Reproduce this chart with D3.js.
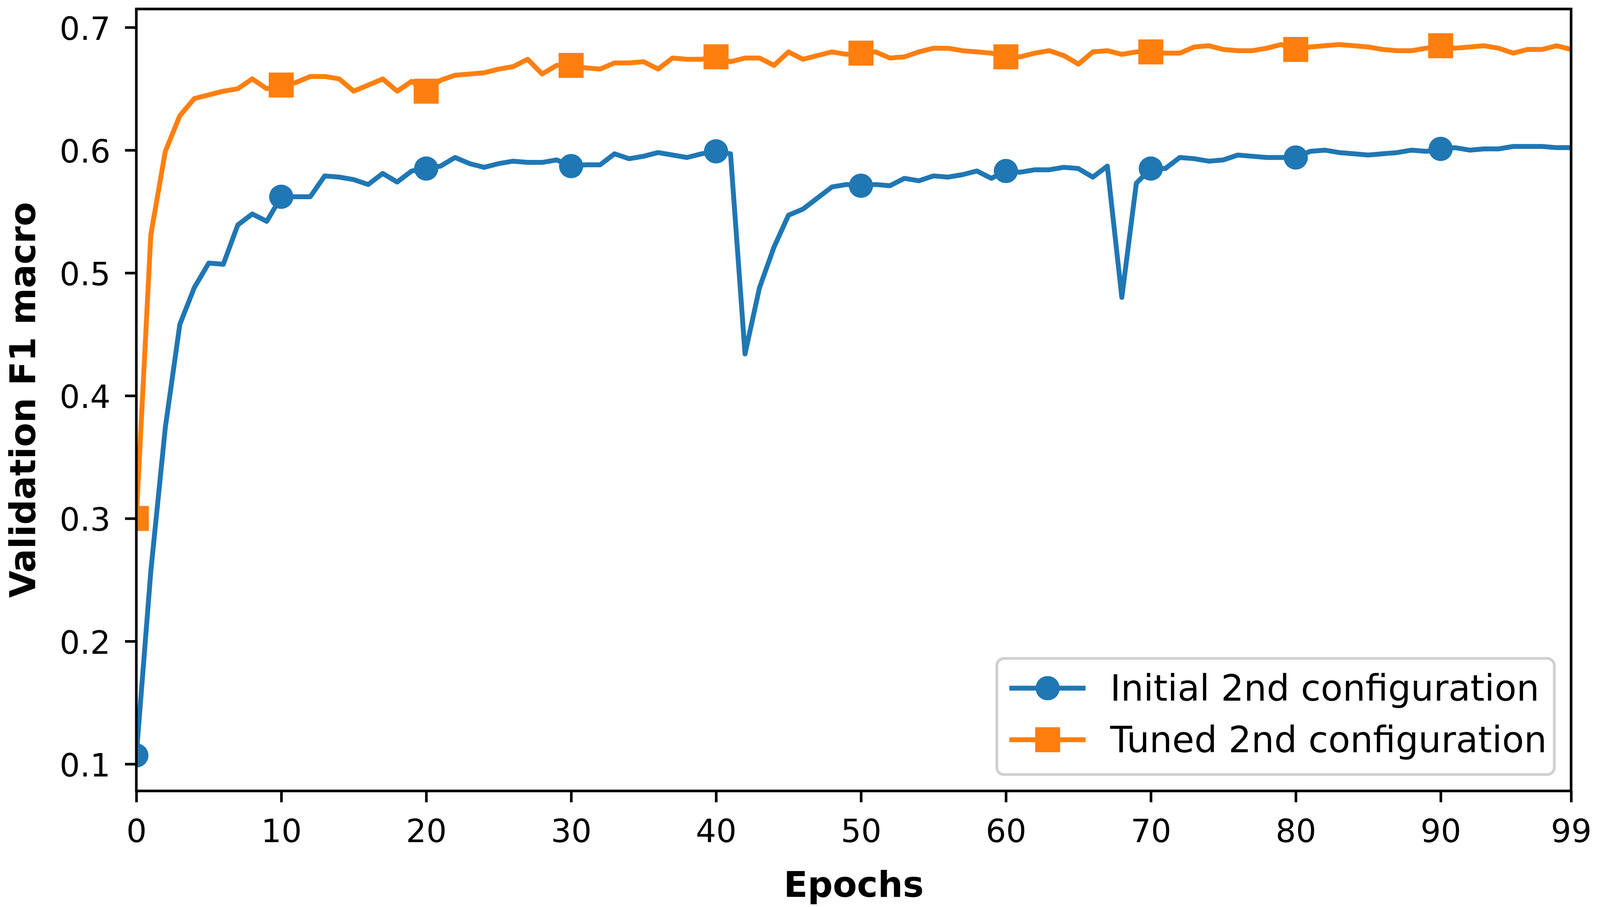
<!DOCTYPE html>
<html lang="en">
<head>
<meta charset="UTF-8">
<title>Validation F1 macro</title>
<script src="https://cdn.jsdelivr.net/npm/d3@7"></script>
<style>
  body { margin: 0; background: #fff; overflow: hidden; }
  svg { display: block; font-family: "DejaVu Sans", sans-serif; }
  .tick text { font-size: 82px; fill: #000; }
  .tick line { stroke: #000; stroke-width: 6.7; }
  .axis-label { font-size: 90px; font-weight: bold; fill: #000; }
  .legend-text { font-size: 92px; fill: #000; }
</style>
</head>
<body>
<div id="root"></div>
<script>
// data
const epochs = d3.range(100)
const initial2nd = [
  0.107, 0.257, 0.374, 0.458, 0.488, 0.508, 0.507, 0.539, 0.548, 0.542,
  0.562, 0.562, 0.562, 0.579, 0.578, 0.576, 0.572, 0.581, 0.574, 0.583,
  0.585, 0.587, 0.594, 0.589, 0.586, 0.589, 0.591, 0.590, 0.590, 0.592,
  0.587, 0.588, 0.588, 0.597, 0.593, 0.595, 0.598, 0.596, 0.594, 0.597,
  0.599, 0.597, 0.434, 0.488, 0.521, 0.547, 0.552, 0.561, 0.570, 0.572,
  0.571, 0.572, 0.571, 0.577, 0.575, 0.579, 0.578, 0.580, 0.583, 0.577,
  0.583, 0.582, 0.584, 0.584, 0.586, 0.585, 0.578, 0.587, 0.480, 0.573,
  0.585, 0.585, 0.594, 0.593, 0.591, 0.592, 0.596, 0.595, 0.594, 0.594,
  0.594, 0.599, 0.600, 0.598, 0.597, 0.596, 0.597, 0.598, 0.600, 0.599,
  0.601, 0.602, 0.600, 0.601, 0.601, 0.603, 0.603, 0.603, 0.602, 0.602
]
const tuned2nd = [
  0.300, 0.531, 0.599, 0.628, 0.642, 0.645, 0.648, 0.650, 0.658, 0.650,
  0.653, 0.655, 0.660, 0.660, 0.658, 0.648, 0.653, 0.658, 0.648, 0.656,
  0.648, 0.657, 0.661, 0.662, 0.663, 0.666, 0.668, 0.674, 0.662, 0.669,
  0.669, 0.667, 0.666, 0.671, 0.671, 0.672, 0.666, 0.675, 0.674, 0.674,
  0.676, 0.672, 0.675, 0.675, 0.669, 0.680, 0.674, 0.677, 0.680, 0.678,
  0.679, 0.680, 0.675, 0.676, 0.680, 0.683, 0.683, 0.681, 0.680, 0.679,
  0.676, 0.676, 0.679, 0.681, 0.677, 0.670, 0.680, 0.681, 0.678, 0.680,
  0.680, 0.679, 0.679, 0.684, 0.685, 0.682, 0.681, 0.681, 0.683, 0.686,
  0.682, 0.684, 0.685, 0.686, 0.685, 0.684, 0.682, 0.681, 0.681, 0.683,
  0.685, 0.683, 0.684, 0.685, 0.683, 0.679, 0.682, 0.682, 0.685, 0.682
]
const seriesNames = ['Initial 2nd configuration', 'Tuned 2nd configuration']
const xTicks = [0, 10, 20, 30, 40, 50, 60, 70, 80, 90, 99]
const yTicks = [0.1, 0.2, 0.3, 0.4, 0.5, 0.6, 0.7]

// the chart fills the window (wide windows get capped, so read the real size)
const width = Math.min(5459, window.innerWidth || 5459)
const height = 2321
const axLeft = 349, axRight = width - 74, axTop = 23, axBottom = 2024
const colors = ['#1f77b4', '#ff7f0e']
const lineW = 12.5
const spineW = 6.7

const svg = d3.select('#root').append('svg')
  .attr('width', width).attr('height', height)
svg.append('rect').attr('width', width).attr('height', height).attr('fill', '#fff')

// y limits like matplotlib autoscale (5% margin)
const allVals = initial2nd.concat(tuned2nd)
const yMin = d3.min(allVals), yMax = d3.max(allVals)
const yPad = (yMax - yMin) * 0.05

const xScale = d3.scaleLinear().domain([0, 99]).range([axLeft, axRight])
const yScale = d3.scaleLinear().domain([yMin - yPad, yMax + yPad]).range([axBottom, axTop])

svg.append('clipPath').attr('id', 'plotClip')
  .append('rect').attr('x', axLeft).attr('y', axTop)
  .attr('width', axRight - axLeft).attr('height', axBottom - axTop)

// axes
const xAxis = d3.axisBottom(xScale).tickValues(xTicks).tickSizeInner(29).tickSizeOuter(0).tickPadding(44)
svg.append('g').attr('class', 'xAxis')
  .attr('transform', `translate(0,${axBottom})`)
  .call(xAxis)
  .call(g => g.select('.domain').remove())

const yAxis = d3.axisLeft(yScale).tickValues(yTicks).tickSizeInner(29).tickSizeOuter(0).tickPadding(37)
  .tickFormat(d3.format('.1f'))
svg.append('g').attr('class', 'yAxis')
  .attr('transform', `translate(${axLeft},0)`)
  .call(yAxis)
  .call(g => g.select('.domain').remove())
  .call(g => g.selectAll('text').attr('dy', '0.38em'))

svg.selectAll('.tick text').attr('font-family', '"DejaVu Sans", sans-serif')

// lines + markers
const plot = svg.append('g').attr('clip-path', 'url(#plotClip)')
const seriesData = [initial2nd, tuned2nd].map(vals => epochs.map(i => ({ x: i, y: vals[i] })))
const line = d3.line().x(d => xScale(d.x)).y(d => yScale(d.y))

seriesData.forEach((data, k) => {
  plot.append('path')
    .datum(data)
    .attr('d', line)
    .attr('fill', 'none')
    .attr('stroke', colors[k])
    .attr('stroke-width', lineW)
    .attr('stroke-linejoin', 'round')
})

const drawMarker = (g, k, cx, cy) => {
  if (k === 0) {
    g.append('circle').attr('cx', cx).attr('cy', cy).attr('r', 31).attr('fill', colors[0])
  } else {
    g.append('rect').attr('x', cx - 32).attr('y', cy - 32).attr('width', 64).attr('height', 64)
      .attr('fill', colors[1])
  }
}

// markevery = 10
seriesData.forEach((data, k) => {
  data.filter(d => d.x % 10 === 0).forEach(d => drawMarker(plot, k, xScale(d.x), yScale(d.y)))
})

// frame
svg.append('rect')
  .attr('x', axLeft).attr('y', axTop)
  .attr('width', axRight - axLeft).attr('height', axBottom - axTop)
  .attr('fill', 'none').attr('stroke', '#000').attr('stroke-width', spineW)

// axis labels
svg.append('text').attr('class', 'axis-label')
  .attr('x', (axLeft + axRight) / 2).attr('y', 2295)
  .attr('text-anchor', 'middle')
  .text('Epochs')

svg.append('text').attr('class', 'axis-label')
  .attr('transform', `translate(90,${(axTop + axBottom) / 2}) rotate(-90)`)
  .attr('text-anchor', 'middle')
  .text('Validation F1 macro')

// legend, lower right of the axes
const legend = svg.append('g').attr('class', 'legend')
  .attr('transform', `translate(${axRight},0)`)
legend.append('rect')
  .attr('x', -1470).attr('y', 1685).attr('width', 1427).attr('height', 297)
  .attr('rx', 18).attr('ry', 18)
  .attr('fill', '#fff').attr('fill-opacity', 0.8)
  .attr('stroke', '#d0d0d0').attr('stroke-width', 7)

const rowsY = [1761, 1893]
seriesNames.forEach((name, k) => {
  const cy = rowsY[k]
  legend.append('line')
    .attr('x1', -1438).attr('x2', -1243).attr('y1', cy).attr('y2', cy)
    .attr('stroke', colors[k]).attr('stroke-width', lineW)
  drawMarker(legend, k, -1340, cy)
  legend.append('text').attr('class', 'legend-text')
    .attr('x', -1180).attr('y', cy + 32)
    .text(name)
})
</script>
</body>
</html>
